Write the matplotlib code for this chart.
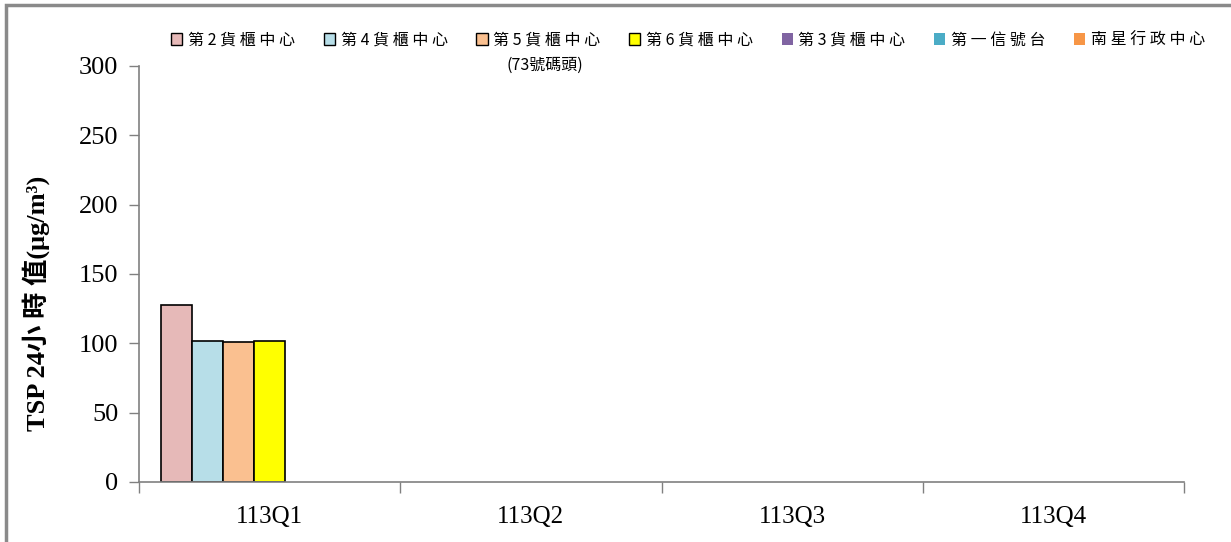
import numpy as np
import matplotlib
matplotlib.use("Agg")
import matplotlib.pyplot as plt
from matplotlib.patches import Patch, Rectangle

# data
quarters = ["113Q1", "113Q2", "113Q3", "113Q4"]
stations = ["第2貨櫃中心", "第4貨櫃中心", "第5貨櫃中心", "第6貨櫃中心",
            "第3貨櫃中心", "第一信號台", "南星行政中心"]
tsp_24h = [
    [128, np.nan, np.nan, np.nan],
    [102, np.nan, np.nan, np.nan],
    [101, np.nan, np.nan, np.nan],
    [102, np.nan, np.nan, np.nan],
    [np.nan, np.nan, np.nan, np.nan],
    [np.nan, np.nan, np.nan, np.nan],
    [np.nan, np.nan, np.nan, np.nan],
]
colors = ["#E6B9B8", "#B7DEE8", "#FAC090", "#FFFF00", "#8064A2", "#4BACC6", "#F79646"]
edged = [True, True, True, True, False, False, False]

serif = ["Liberation Serif", "Noto Sans CJK TC"]
cjk = ["Noto Sans CJK TC", "Liberation Serif"]

fig = plt.figure(figsize=(12.31, 5.42), dpi=100)
ax = fig.add_axes([139 / 1231, 1 - 482 / 542, (1184 - 139) / 1231, (482 - 66) / 542])

x = np.arange(len(quarters))
w = 31 / 261
n = len(stations)
for j in range(n):
    ax.bar(x + (j - (n - 1) / 2) * w, tsp_24h[j], width=w, color=colors[j],
           edgecolor="black" if edged[j] else "none", linewidth=1.2)

ax.set_xlim(-0.5, len(quarters) - 0.5)
ax.set_ylim(0, 300)
ax.set_yticks(np.arange(0, 301, 50))
ax.set_xticks(x)
ax.set_xticklabels(quarters)
ax.set_xticks(np.arange(-0.5, len(quarters), 1), minor=True)
ax.tick_params(axis="x", which="major", length=0, pad=17)
ax.tick_params(axis="x", which="minor", length=8, color="#808080", width=1)
ax.tick_params(axis="y", length=7, color="#808080", width=1, pad=8)
for lab in ax.get_xticklabels():
    lab.set_family(serif)
    lab.set_fontsize(18)
for lab in ax.get_yticklabels():
    lab.set_family(serif)
    lab.set_fontsize(19)
for s in ["top", "right"]:
    ax.spines[s].set_visible(False)
for s in ["left", "bottom"]:
    ax.spines[s].set_color("#808080")
    ax.spines[s].set_linewidth(1.2)

ax.set_ylabel("TSP 24小 時 值(μg/m³)", family=serif,
              fontsize=19, fontweight="bold")
ax.yaxis.set_label_coords(-0.085, 0.43)

handles = [Patch(facecolor=colors[j], edgecolor="black" if edged[j] else "none",
                 linewidth=1.0) for j in range(n)]
labels = [" ".join(s) for s in stations]
leg = fig.legend(handles, labels, loc="center", bbox_to_anchor=(0.559, 1 - 40 / 542),
                 ncol=n, frameon=False, handlelength=0.7, handleheight=0.7,
                 handletextpad=0.35, columnspacing=1.8,
                 prop={"family": cjk, "size": 11.5})
fig.text(545 / 1231, 1 - 65 / 542, "(73號碼頭)", family=cjk, fontsize=11.5,
         ha="center", va="center")

fig.patches.append(Rectangle((6 / 1231, -0.1), 1.2, 1 - 5 / 542 + 0.1,
                             transform=fig.transFigure, fill=False,
                             edgecolor="#8a8a8a", linewidth=2.5))

fig.savefig("out.png", dpi=100)
